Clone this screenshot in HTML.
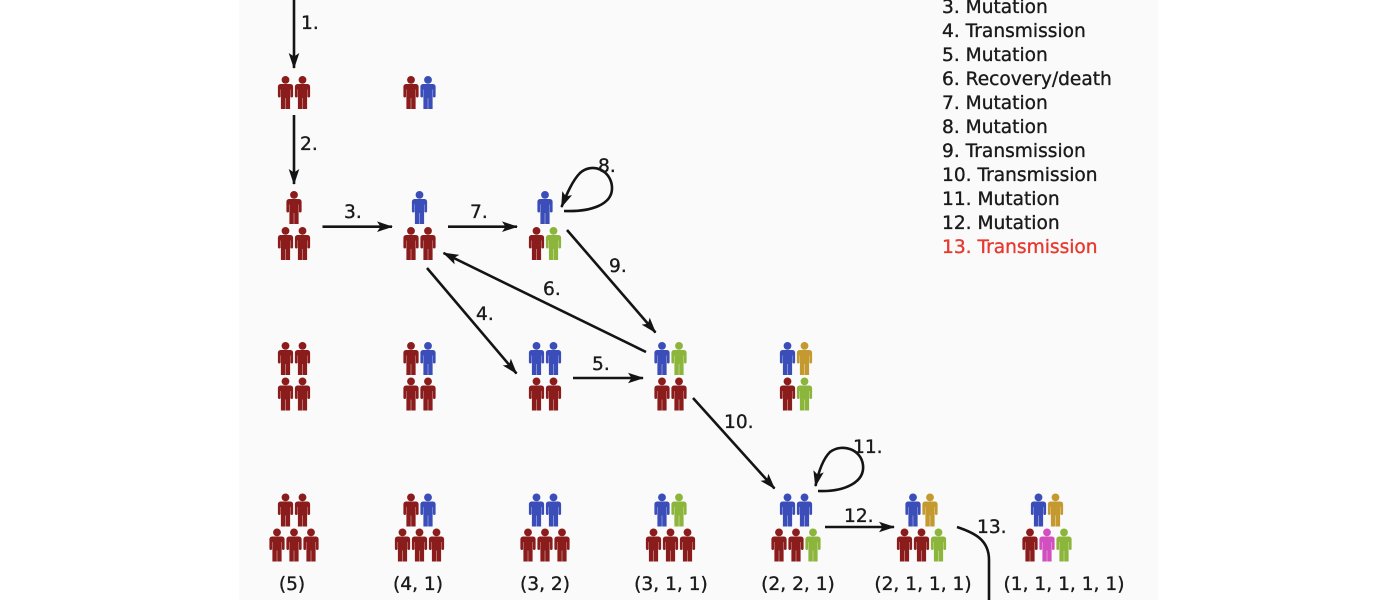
<!DOCTYPE html>
<html>
<head>
<meta charset="utf-8">
<style>
  html, body { margin: 0; padding: 0; background: #ffffff; }
  body { width: 1380px; height: 600px; overflow: hidden; }
  svg { display: block; }
  text { font-family: "DejaVu Sans", "Liberation Sans", sans-serif; font-size: 18.6px; fill: #1a1a1a; stroke: #1a1a1a; stroke-width: 0.35px; }
</style>
</head>
<body>
<svg width="1380" height="600" viewBox="0 0 1380 600" xmlns="http://www.w3.org/2000/svg">
  <defs>
    <g id="p">
      <circle cx="0" cy="3.9" r="3.9" fill="currentColor"/>
      <rect x="-7.6" y="8" width="15.2" height="5.5" rx="2.6" fill="currentColor"/>
      <rect x="-7.6" y="10" width="2.7" height="11.5" rx="1.2" fill="currentColor"/>
      <rect x="4.9" y="10" width="2.7" height="11.5" rx="1.2" fill="currentColor"/>
      <rect x="-4.6" y="8" width="9.2" height="14" rx="1.5" fill="currentColor"/>
      <rect x="-4.6" y="20" width="4.4" height="13" fill="currentColor"/>
      <rect x="0.2" y="20" width="4.4" height="13" fill="currentColor"/>
    </g>
    <marker id="ah" viewBox="-17 -7 19 14" refX="0" refY="0" markerWidth="19" markerHeight="14" markerUnits="userSpaceOnUse" orient="auto">
      <path d="M1,0 L-15,-5.3 L-11.5,0 L-15,5.3 Z" fill="#141414"/>
    </marker>
  </defs>

  <!-- panel -->
  <rect x="239" y="0" width="919" height="600" fill="#fafafa"/>

  <!-- Row A -->
  <use href="#p" x="285.5" y="76" color="#8b1c1c"/><use href="#p" x="302.5" y="76" color="#8b1c1c"/>
  <use href="#p" x="411" y="76" color="#8b1c1c"/><use href="#p" x="428" y="76" color="#3a4db8"/>

  <!-- Row B -->
  <use href="#p" x="294" y="191" color="#8b1c1c"/>
  <use href="#p" x="285.5" y="227" color="#8b1c1c"/><use href="#p" x="302.5" y="227" color="#8b1c1c"/>

  <use href="#p" x="419.5" y="191" color="#3a4db8"/>
  <use href="#p" x="411" y="227" color="#8b1c1c"/><use href="#p" x="428" y="227" color="#8b1c1c"/>

  <use href="#p" x="545" y="191" color="#3a4db8"/>
  <use href="#p" x="536.5" y="227" color="#8b1c1c"/><use href="#p" x="553.5" y="227" color="#8cb53b"/>

  <!-- Row C -->
  <use href="#p" x="285.5" y="342" color="#8b1c1c"/><use href="#p" x="302.5" y="342" color="#8b1c1c"/>
  <use href="#p" x="285.5" y="377.5" color="#8b1c1c"/><use href="#p" x="302.5" y="377.5" color="#8b1c1c"/>

  <use href="#p" x="411" y="342" color="#8b1c1c"/><use href="#p" x="428" y="342" color="#3a4db8"/>
  <use href="#p" x="411" y="377.5" color="#8b1c1c"/><use href="#p" x="428" y="377.5" color="#8b1c1c"/>

  <use href="#p" x="536.5" y="342" color="#3a4db8"/><use href="#p" x="553.5" y="342" color="#3a4db8"/>
  <use href="#p" x="536.5" y="377.5" color="#8b1c1c"/><use href="#p" x="553.5" y="377.5" color="#8b1c1c"/>

  <use href="#p" x="662" y="342" color="#3a4db8"/><use href="#p" x="679" y="342" color="#8cb53b"/>
  <use href="#p" x="662" y="377.5" color="#8b1c1c"/><use href="#p" x="679" y="377.5" color="#8b1c1c"/>

  <use href="#p" x="787.5" y="342" color="#3a4db8"/><use href="#p" x="804.5" y="342" color="#c49a30"/>
  <use href="#p" x="787.5" y="377.5" color="#8b1c1c"/><use href="#p" x="804.5" y="377.5" color="#8cb53b"/>

  <!-- Row D -->
  <use href="#p" x="285.5" y="493.5" color="#8b1c1c"/><use href="#p" x="302.5" y="493.5" color="#8b1c1c"/>
  <use href="#p" x="277" y="528.5" color="#8b1c1c"/><use href="#p" x="294" y="528.5" color="#8b1c1c"/><use href="#p" x="311" y="528.5" color="#8b1c1c"/>

  <use href="#p" x="411" y="493.5" color="#8b1c1c"/><use href="#p" x="428" y="493.5" color="#3a4db8"/>
  <use href="#p" x="402.5" y="528.5" color="#8b1c1c"/><use href="#p" x="419.5" y="528.5" color="#8b1c1c"/><use href="#p" x="436.5" y="528.5" color="#8b1c1c"/>

  <use href="#p" x="536.5" y="493.5" color="#3a4db8"/><use href="#p" x="553.5" y="493.5" color="#3a4db8"/>
  <use href="#p" x="528" y="528.5" color="#8b1c1c"/><use href="#p" x="545" y="528.5" color="#8b1c1c"/><use href="#p" x="562" y="528.5" color="#8b1c1c"/>

  <use href="#p" x="662" y="493.5" color="#3a4db8"/><use href="#p" x="679" y="493.5" color="#8cb53b"/>
  <use href="#p" x="653.5" y="528.5" color="#8b1c1c"/><use href="#p" x="670.5" y="528.5" color="#8b1c1c"/><use href="#p" x="687.5" y="528.5" color="#8b1c1c"/>

  <use href="#p" x="787.5" y="493.5" color="#3a4db8"/><use href="#p" x="804.5" y="493.5" color="#3a4db8"/>
  <use href="#p" x="779" y="528.5" color="#8b1c1c"/><use href="#p" x="796" y="528.5" color="#8b1c1c"/><use href="#p" x="813" y="528.5" color="#8cb53b"/>

  <use href="#p" x="913" y="493.5" color="#3a4db8"/><use href="#p" x="930" y="493.5" color="#c49a30"/>
  <use href="#p" x="904.5" y="528.5" color="#8b1c1c"/><use href="#p" x="921.5" y="528.5" color="#8b1c1c"/><use href="#p" x="938.5" y="528.5" color="#8cb53b"/>

  <use href="#p" x="1038.5" y="493.5" color="#3a4db8"/><use href="#p" x="1055.5" y="493.5" color="#c49a30"/>
  <use href="#p" x="1030" y="528.5" color="#8b1c1c"/><use href="#p" x="1047" y="528.5" color="#d24fbf"/><use href="#p" x="1064" y="528.5" color="#8cb53b"/>

  <!-- state labels -->
  <g text-anchor="middle">
    <text x="292" y="590">(5)</text>
    <text x="418" y="590">(4, 1)</text>
    <text x="545" y="590">(3, 2)</text>
    <text x="671" y="590">(3, 1, 1)</text>
    <text x="798" y="590">(2, 2, 1)</text>
    <text x="923" y="590">(2, 1, 1, 1)</text>
    <text x="1064" y="590">(1, 1, 1, 1, 1)</text>
  </g>

  <!-- arrows -->
  <g stroke="#141414" stroke-width="2.6" fill="none" marker-end="url(#ah)">
    <path d="M294 -2 L294 68"/>
    <path d="M294 115 L294 184"/>
    <path d="M322.5 226.7 L392 226.7"/>
    <path d="M448 226.7 L517 226.7"/>
    <path d="M567 230 L655.5 332.5"/>
    <path d="M427 268 L516.5 373.5"/>
    <path d="M646 352 L443.5 253"/>
    <path d="M573 378 L643 378"/>
    <path d="M693 398 L774.5 488.5"/>
    <path d="M825 527 L894 527"/>
    <path d="M564 211 C590 212, 613 205, 612 187 C611 170, 592 162, 580 173 C572 181, 566 196, 561.5 207"/>
    <path d="M818 491 C845 492, 865 482, 863 465 C861 449, 842 443, 830 452 C822 460, 818 474, 815.5 486"/>
  </g>
  <path d="M957 527 C975 533, 989 540, 989 560 L989 600" stroke="#141414" stroke-width="2.6" fill="none"/>

  <!-- arrow labels -->
  <text x="301" y="29">1.</text>
  <text x="300" y="150">2.</text>
  <text x="344" y="218">3.</text>
  <text x="470" y="218">7.</text>
  <text x="598" y="172">8.</text>
  <text x="609" y="272">9.</text>
  <text x="543" y="295">6.</text>
  <text x="476" y="320">4.</text>
  <text x="592" y="370">5.</text>
  <text x="724" y="428">10.</text>
  <text x="853" y="453">11.</text>
  <text x="844" y="522">12.</text>
  <text x="977" y="533">13.</text>

  <!-- legend -->
  <text x="942" y="13">3. Mutation</text>
  <text x="942" y="37">4. Transmission</text>
  <text x="942" y="61">5. Mutation</text>
  <text x="942" y="85">6. Recovery/death</text>
  <text x="942" y="109">7. Mutation</text>
  <text x="942" y="133">8. Mutation</text>
  <text x="942" y="157">9. Transmission</text>
  <text x="942" y="181">10. Transmission</text>
  <text x="942" y="205">11. Mutation</text>
  <text x="942" y="229">12. Mutation</text>
  <text x="942" y="253" style="fill:#e8392f;stroke:#e8392f">13. Transmission</text>
</svg>
</body>
</html>
